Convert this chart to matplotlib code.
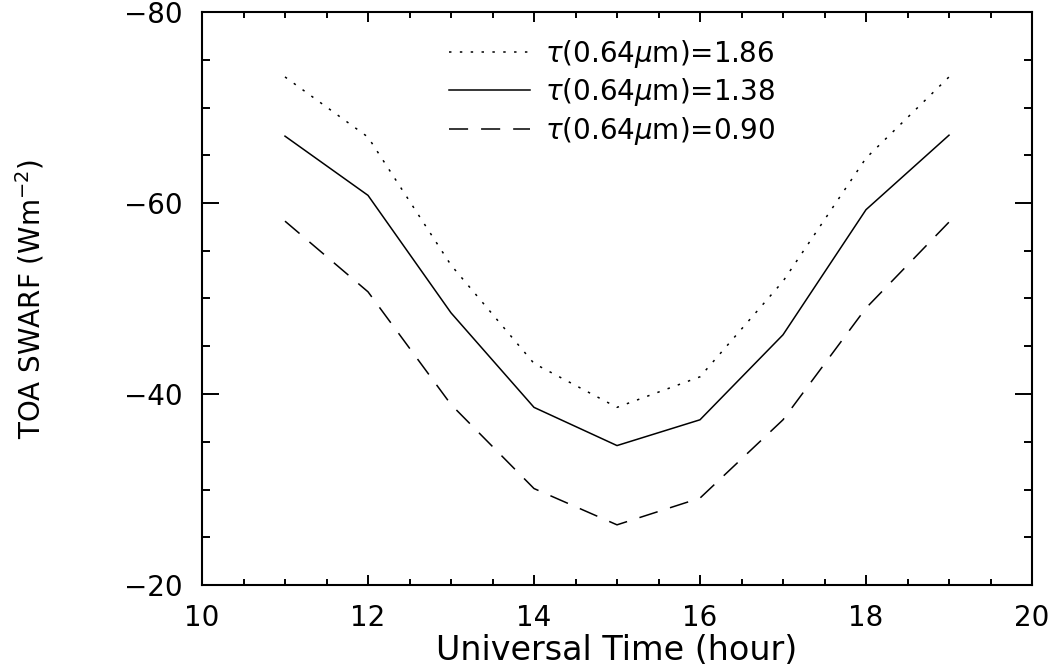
import matplotlib
matplotlib.use("Agg")
import matplotlib.pyplot as plt
from matplotlib.ticker import MultipleLocator

hours = [11, 12, 13, 14, 15, 16, 17, 18, 19]
swarf_186 = [-73.2, -66.9, -53.5, -43.2, -38.6, -41.8, -51.8, -64.7, -73.2]
swarf_138 = [-67.0, -60.8, -48.5, -38.6, -34.6, -37.3, -46.2, -59.3, -67.1]
swarf_090 = [-58.1, -50.7, -38.9, -30.1, -26.3, -29.1, -37.3, -49.0, -58.0]
labels = [r'$\tau$(0.64$\mu$m)=1.86', r'$\tau$(0.64$\mu$m)=1.38', r'$\tau$(0.64$\mu$m)=0.90']
xticks = [10, 12, 14, 16, 18, 20]
yticks = [-80, -60, -40, -20]

plt.rcParams['font.family'] = ['DejaVu Sans']
plt.rcParams['mathtext.fontset'] = 'dejavusans'

fig = plt.figure(figsize=(10.61, 6.70), dpi=100)
ax = fig.add_axes([202/1061, 1-585/670, 830/1061, 573/670])

lw = 1.1
ax.plot(hours, swarf_186, color='black', lw=lw, linestyle=(0, (1.6, 5.5)), label=labels[0])
ax.plot(hours, swarf_138, color='black', lw=lw, linestyle='-', label=labels[1])
ax.plot(hours, swarf_090, color='black', lw=lw, linestyle=(0, (12.5, 8.5)), label=labels[2])

ax.set_xlim(10, 20)
ax.set_ylim(-20, -80)
ax.set_xticks(xticks)
ax.set_yticks(yticks)
ax.xaxis.set_minor_locator(MultipleLocator(0.5))
ax.yaxis.set_minor_locator(MultipleLocator(5))
ax.tick_params(which='both', direction='in', top=True, right=True, width=1.4)
ax.tick_params(axis='x', which='major', length=7.5, labelsize=20, pad=14)
ax.tick_params(axis='x', which='minor', length=4)
ax.tick_params(axis='y', which='major', length=12, labelsize=20, pad=14)
ax.tick_params(axis='y', which='minor', length=6)
for s in ax.spines.values():
    s.set_linewidth(1.5)

ax.set_xlabel('Universal Time (hour)', fontsize=24, labelpad=1)
ax.set_ylabel(r'TOA SWARF (Wm$^{-2}$)', fontsize=20)
ax.yaxis.set_label_coords((47 - 202) / 830, 0.5)

leg = ax.legend(loc='upper left', bbox_to_anchor=(0.298, 0.955), frameon=False,
                fontsize=20, handlelength=2.9, handletextpad=0.55,
                labelspacing=0.23, borderpad=0, borderaxespad=0)

fig.savefig('out.png', dpi=100)
